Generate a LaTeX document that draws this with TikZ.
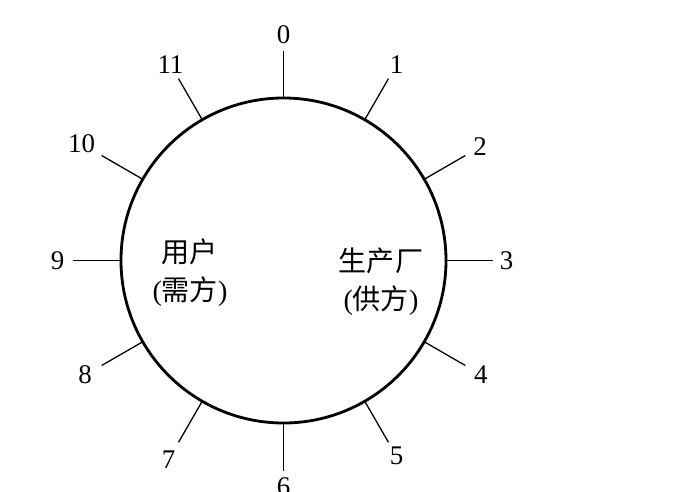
\documentclass[tikz,border=0pt]{standalone}
\usepackage{fontspec}
\setmainfont{Liberation Serif}
\newfontfamily\cjk{Noto Sans CJK SC}
\usetikzlibrary{positioning}

\begin{document}
\begin{tikzpicture}[
  x=0.03cm, y=0.03cm,
  dial/.style={
    circle, draw=black, line width=2.4pt, inner sep=0pt, outer sep=0pt,
    minimum size=9.75cm
  },
  tick/.style={line width=1.1pt},
  num/.style={font=\fontsize{23}{26}\selectfont, inner sep=0pt},
  side/.style={font=\fontsize{24}{32.5}\selectfont, align=center, inner sep=0pt}
]

\useasboundingbox (-283.5,-230.5) rectangle (403.5,260.5);

% -- Circle --
\node[dial] (ring) at (0,0) {};

% -- Two parties --
\node[side] (user) at (-93.5,-12.5) {{\cjk 用户}\\({\cjk 需方})};
\node[side] (mill) at ( 97.5,-21)   {{\cjk 生产厂}\\({\cjk 供方})};

% -- Tick ends --
\coordinate (e0)  at (  90:210);
\coordinate (e1)  at (  60:210);
\coordinate (e2)  at (  30:210);
\coordinate (e3)  at (   0:210);
\coordinate (e4)  at ( -30:210);
\coordinate (e5)  at ( -60:210);
\coordinate (e6)  at ( -90:210);
\coordinate (e7)  at (-120:210);
\coordinate (e8)  at (-150:210);
\coordinate (e9)  at ( 180:210);
\coordinate (e10) at ( 150:210);
\coordinate (e11) at ( 120:210);

% -- Numbers --
\node[num] (n0)  at (  90:226) {0};
\node[num] (n1)  at (  60:226) {1};
\node[num] (n2)  at (  30:227) {2};
\node[num] (n3)  at (   0:223) {3};
\node[num] (n4)  at ( -30:228) {4};
\node[num] (n5)  at ( -60:226) {5};
\node[num] (n6)  at ( -90:226) {6};
\node[num] (n7)  at (-120:230) {7};
\node[num] (n8)  at (-150:229) {8};
\node[num] (n9)  at ( 180:226) {9};
\node[num] (n10) at ( 150:233) {10};
\node[num] (n11) at ( 120:226) {11};

% -- Ticks --
\draw[tick] (ring.90)   -- (e0);
\draw[tick] (ring.60)   -- (e1);
\draw[tick] (ring.30)   -- (e2);
\draw[tick] (ring.0)    -- (e3);
\draw[tick] (ring.-30)  -- (e4);
\draw[tick] (ring.-60)  -- (e5);
\draw[tick] (ring.-90)  -- (e6);
\draw[tick] (ring.-120) -- (e7);
\draw[tick] (ring.-150) -- (e8);
\draw[tick] (ring.180)  -- (e9);
\draw[tick] (ring.150)  -- (e10);
\draw[tick] (ring.120)  -- (e11);

\end{tikzpicture}
\end{document}
